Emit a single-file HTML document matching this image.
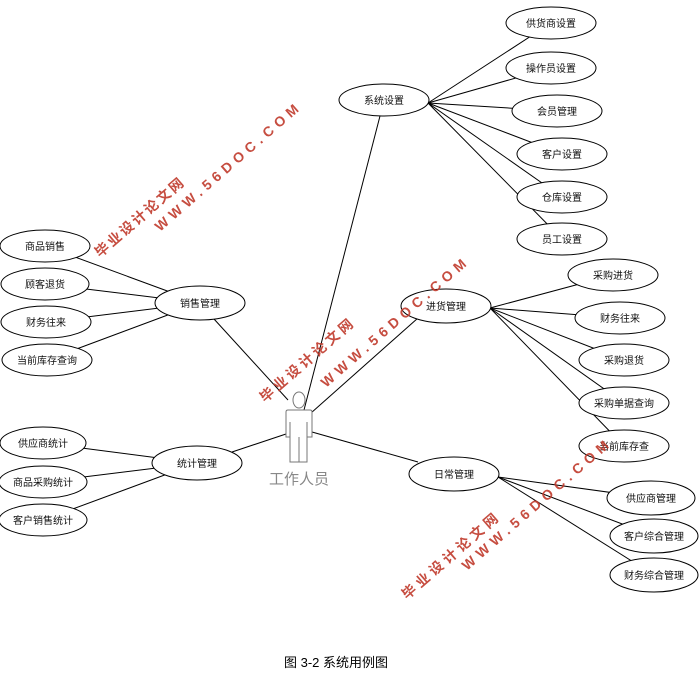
<!DOCTYPE html>
<html><head><meta charset="utf-8"><style>
html,body{margin:0;padding:0;background:#fff;width:700px;height:688px;overflow:hidden}
svg text{font-family:"Liberation Sans","Noto Sans CJK SC",sans-serif}
</style></head><body>
<svg width="700" height="688" viewBox="0 0 700 688" xmlns="http://www.w3.org/2000/svg">
<g stroke="#000" stroke-width="1" fill="none">
<!-- sales -->
<line x1="200" y1="303" x2="45" y2="246"/><line x1="200" y1="303" x2="45" y2="284"/>
<line x1="200" y1="303" x2="46" y2="322"/><line x1="200" y1="303" x2="47" y2="360"/>
<line x1="214" y1="319" x2="288" y2="400"/>
<!-- stats -->
<line x1="197" y1="463" x2="43" y2="443"/><line x1="197" y1="463" x2="43" y2="482"/>
<line x1="197" y1="463" x2="43" y2="520"/>
<line x1="232" y1="452" x2="286" y2="434"/>
<!-- system -->
<line x1="428" y1="103" x2="551" y2="23"/><line x1="428" y1="103" x2="551" y2="68"/>
<line x1="428" y1="103" x2="557" y2="111"/><line x1="428" y1="103" x2="562" y2="154"/>
<line x1="428" y1="103" x2="562" y2="197"/><line x1="428" y1="103" x2="562" y2="239"/>
<line x1="380" y1="116" x2="304" y2="410"/>
<!-- purchase -->
<line x1="490" y1="308" x2="613" y2="275"/><line x1="490" y1="308" x2="620" y2="318"/>
<line x1="490" y1="308" x2="624" y2="360"/><line x1="490" y1="308" x2="624" y2="403"/>
<line x1="490" y1="308" x2="624" y2="446"/>
<line x1="418" y1="318" x2="311" y2="413"/>
<!-- daily -->
<line x1="498" y1="477" x2="651" y2="498"/><line x1="498" y1="477" x2="654" y2="536"/>
<line x1="498" y1="477" x2="654" y2="575"/>
<line x1="418" y1="462" x2="312" y2="432"/>
</g>
<g stroke="#000" stroke-width="1" fill="#fff">
<ellipse cx="45" cy="246" rx="45" ry="16"/><ellipse cx="45" cy="284" rx="44" ry="16"/>
<ellipse cx="46" cy="322" rx="45" ry="16"/><ellipse cx="47" cy="360" rx="45" ry="16"/>
<ellipse cx="200" cy="303" rx="45" ry="17"/>
<ellipse cx="43" cy="443" rx="43" ry="16"/><ellipse cx="43" cy="482" rx="44" ry="16"/>
<ellipse cx="43" cy="520" rx="44" ry="16"/>
<ellipse cx="197" cy="463" rx="45" ry="17"/>
<ellipse cx="384" cy="100" rx="45" ry="16"/>
<ellipse cx="551" cy="23" rx="45" ry="16"/><ellipse cx="551" cy="68" rx="45" ry="16"/>
<ellipse cx="557" cy="111" rx="45" ry="16"/><ellipse cx="562" cy="154" rx="45" ry="16"/>
<ellipse cx="562" cy="197" rx="45" ry="16"/><ellipse cx="562" cy="239" rx="45" ry="16"/>
<ellipse cx="446" cy="306" rx="45" ry="17"/>
<ellipse cx="613" cy="275" rx="45" ry="16"/><ellipse cx="620" cy="318" rx="45" ry="16"/>
<ellipse cx="624" cy="360" rx="45" ry="16"/><ellipse cx="624" cy="403" rx="45" ry="16"/>
<ellipse cx="624" cy="446" rx="45" ry="16"/>
<ellipse cx="454" cy="474" rx="45" ry="17"/>
<ellipse cx="651" cy="498" rx="44" ry="17"/><ellipse cx="654" cy="536" rx="44" ry="17"/>
<ellipse cx="654" cy="575" rx="44" ry="17"/>
</g>
<g font-size="10" fill="#111" text-anchor="middle">
<text x="45" y="250">商品销售</text><text x="45" y="288">顾客退货</text>
<text x="46" y="326">财务往来</text><text x="47" y="364">当前库存查询</text>
<text x="200" y="307">销售管理</text>
<text x="43" y="447">供应商统计</text><text x="43" y="486">商品采购统计</text>
<text x="43" y="524">客户销售统计</text><text x="197" y="467">统计管理</text>
<text x="384" y="104">系统设置</text>
<text x="551" y="27">供货商设置</text><text x="551" y="72">操作员设置</text>
<text x="557" y="115">会员管理</text><text x="562" y="158">客户设置</text>
<text x="562" y="201">仓库设置</text><text x="562" y="243">员工设置</text>
<text x="446" y="310">进货管理</text>
<text x="613" y="279">采购进货</text><text x="620" y="322">财务往来</text>
<text x="624" y="364">采购退货</text><text x="624" y="407">采购单据查询</text>
<text x="624" y="450">当前库存查</text>
<text x="454" y="478">日常管理</text>
<text x="651" y="502">供应商管理</text><text x="654" y="540">客户综合管理</text>
<text x="654" y="579">财务综合管理</text>
</g>
<!-- actor -->
<g stroke="#777" stroke-width="1" fill="#fff">
<ellipse cx="299" cy="400" rx="6" ry="8"/>
<path d="M288 410 H310 Q312 410 312 412 V437 H307 V462 H290 V437 H286 V412 Q286 410 288 410 Z"/>
<line x1="290" y1="422" x2="290" y2="437"/><line x1="307" y1="422" x2="307" y2="437"/>
<line x1="299" y1="437" x2="299" y2="462"/>
</g>
<text x="299" y="484" font-size="15" fill="#888" text-anchor="middle">工作人员</text>
<!-- watermarks -->
<g fill="#c0392b" font-weight="bold" font-size="14" opacity="0.9">
<text transform="translate(100,258) rotate(-41)" textLength="112">毕业设计论文网</text>
<text transform="translate(160,232) rotate(-41)" textLength="188" letter-spacing="3">WWW.56DOC.COM</text>
<text transform="translate(265,403) rotate(-41)" textLength="118">毕业设计论文网</text>
<text transform="translate(326,388) rotate(-41)" textLength="190" letter-spacing="3">WWW.56DOC.COM</text>
<text transform="translate(407,600) rotate(-41)" textLength="122">毕业设计论文网</text>
<text transform="translate(467,571) rotate(-41)" textLength="192" letter-spacing="3">WWW.56DOC.COM</text>
</g>
<text x="336" y="667" font-size="13" fill="#000" text-anchor="middle">图 3-2  系统用例图</text>
</svg>
</body></html>
